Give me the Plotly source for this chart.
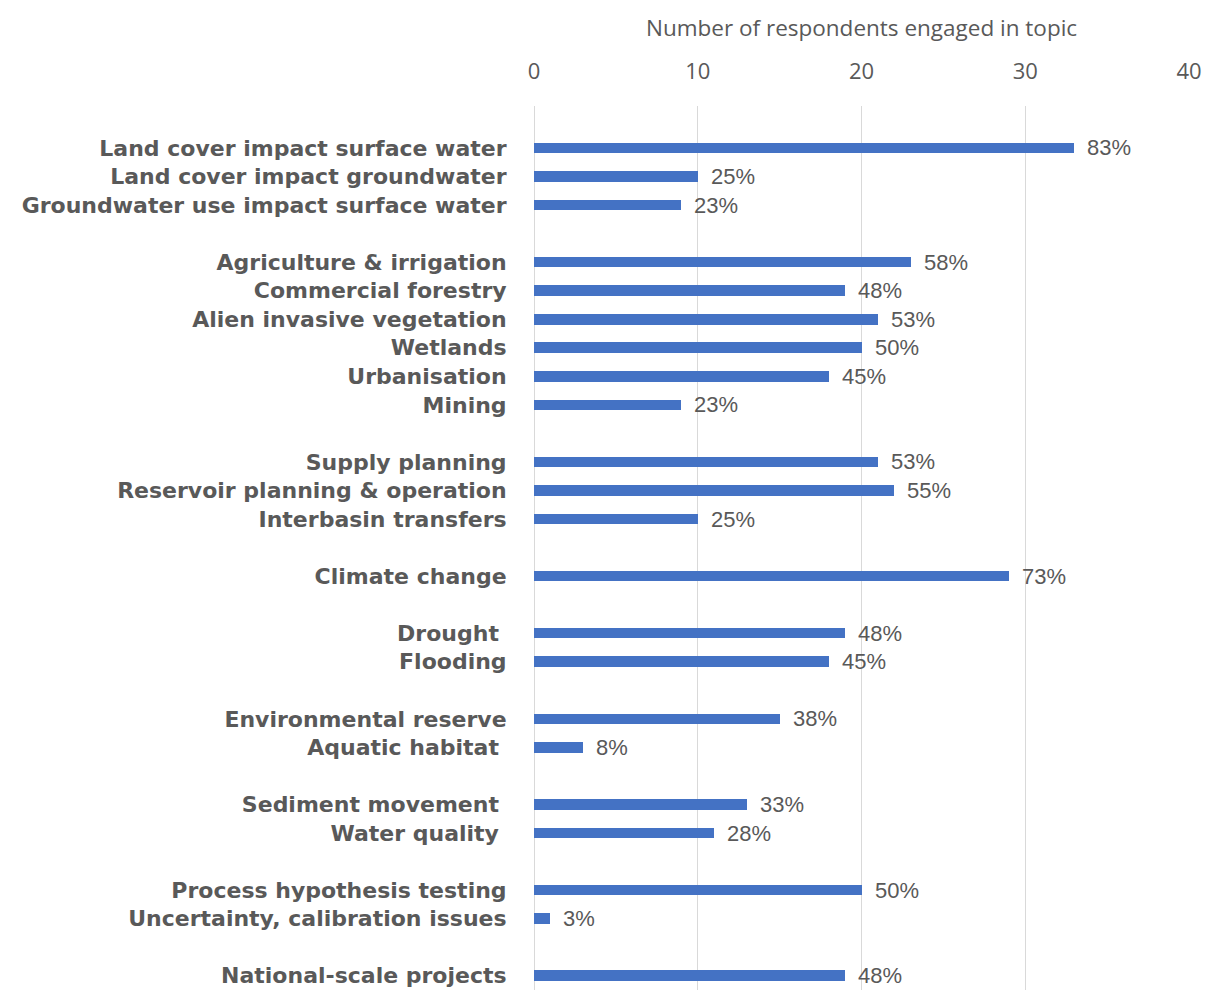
import plotly.graph_objects as go

# Survey topics, in reading order (top to bottom), and respondent counts
topics = [
    "Land cover impact surface water",
    "Land cover impact groundwater",
    "Groundwater use impact surface water",
    "Agriculture & irrigation",
    "Commercial forestry",
    "Alien invasive vegetation",
    "Wetlands",
    "Urbanisation",
    "Mining",
    "Supply planning",
    "Reservoir planning & operation",
    "Interbasin transfers",
    "Climate change",
    "Drought\u00a0",
    "Flooding",
    "Environmental reserve",
    "Aquatic habitat\u00a0",
    "Sediment movement\u00a0",
    "Water quality\u00a0",
    "Process hypothesis testing",
    "Uncertainty, calibration issues",
    "National-scale projects",
]
counts = [33, 10, 9, 23, 19, 21, 20, 18, 9, 21, 22, 10, 29, 19, 18, 15, 3, 13, 11, 20, 1, 19]
group_sizes = [3, 6, 3, 1, 2, 2, 2, 2, 1]
total_respondents = 40
x_ticks = [0, 10, 20, 30, 40]

# Row slots: one blank slot between topic groups
slots = []
pos = 0
for size in group_sizes:
    for _ in range(size):
        slots.append(pos)
        pos += 1
    pos += 1

labels = [f"{int(c * 100 / total_respondents + 0.5)}%" for c in counts]

BAR = "#4472C4"
GRID = "#D9D9D9"
TXT = "#595959"
FONT = "Open Sans"
LABEL_FONT = "DejaVu Sans"
VALUE_FONT = "Liberation Sans"

fig = go.Figure(
    go.Bar(
        x=counts,
        y=slots,
        orientation="h",
        width=0.37,
        marker=dict(color=BAR, line=dict(width=0)),
        hoverinfo="skip",
    )
)

# Share of respondents printed just past the end of each bar
for c, s, lab in zip(counts, slots, labels):
    fig.add_annotation(
        x=c, y=s, xref="x", yref="y", text=lab, showarrow=False,
        xanchor="left", yanchor="middle", xshift=12, yshift=0, borderpad=0,
        font=dict(family=VALUE_FONT, size=22, color=TXT),
    )

fig.add_annotation(
    x=20, y=1, xref="x", yref="paper", yanchor="middle", yshift=79,
    text="Number of respondents engaged in topic", showarrow=False,
    font=dict(family=FONT, size=22.5, color=TXT),
)

fig.update_layout(
    width=1205,
    height=990,
    margin=dict(l=534, r=16, t=106, b=0, pad=0),
    paper_bgcolor="white",
    plot_bgcolor="white",
    showlegend=False,
    bargap=0,
    xaxis=dict(
        side="top",
        range=[0, 40],
        tickvals=x_ticks,
        ticks="outside",
        ticklen=17,
        tickcolor="rgba(0,0,0,0)",
        tickfont=dict(family=FONT, size=22, color=TXT),
        showgrid=True,
        gridcolor=GRID,
        gridwidth=1,
        zeroline=True,
        zerolinecolor=GRID,
        zerolinewidth=1,
        showline=False,
        fixedrange=True,
    ),
    yaxis=dict(
        range=[29.5, -1.47],
        tickvals=slots,
        ticktext=topics,
        ticks="outside",
        ticklen=22,
        tickcolor="rgba(0,0,0,0)",
        ticklabeloverflow="allow",
        tickfont=dict(family=LABEL_FONT, size=22, color=TXT, weight="bold"),
        showgrid=False,
        zeroline=False,
        showline=False,
        fixedrange=True,
    ),
)

fig.write_html("out.html")
